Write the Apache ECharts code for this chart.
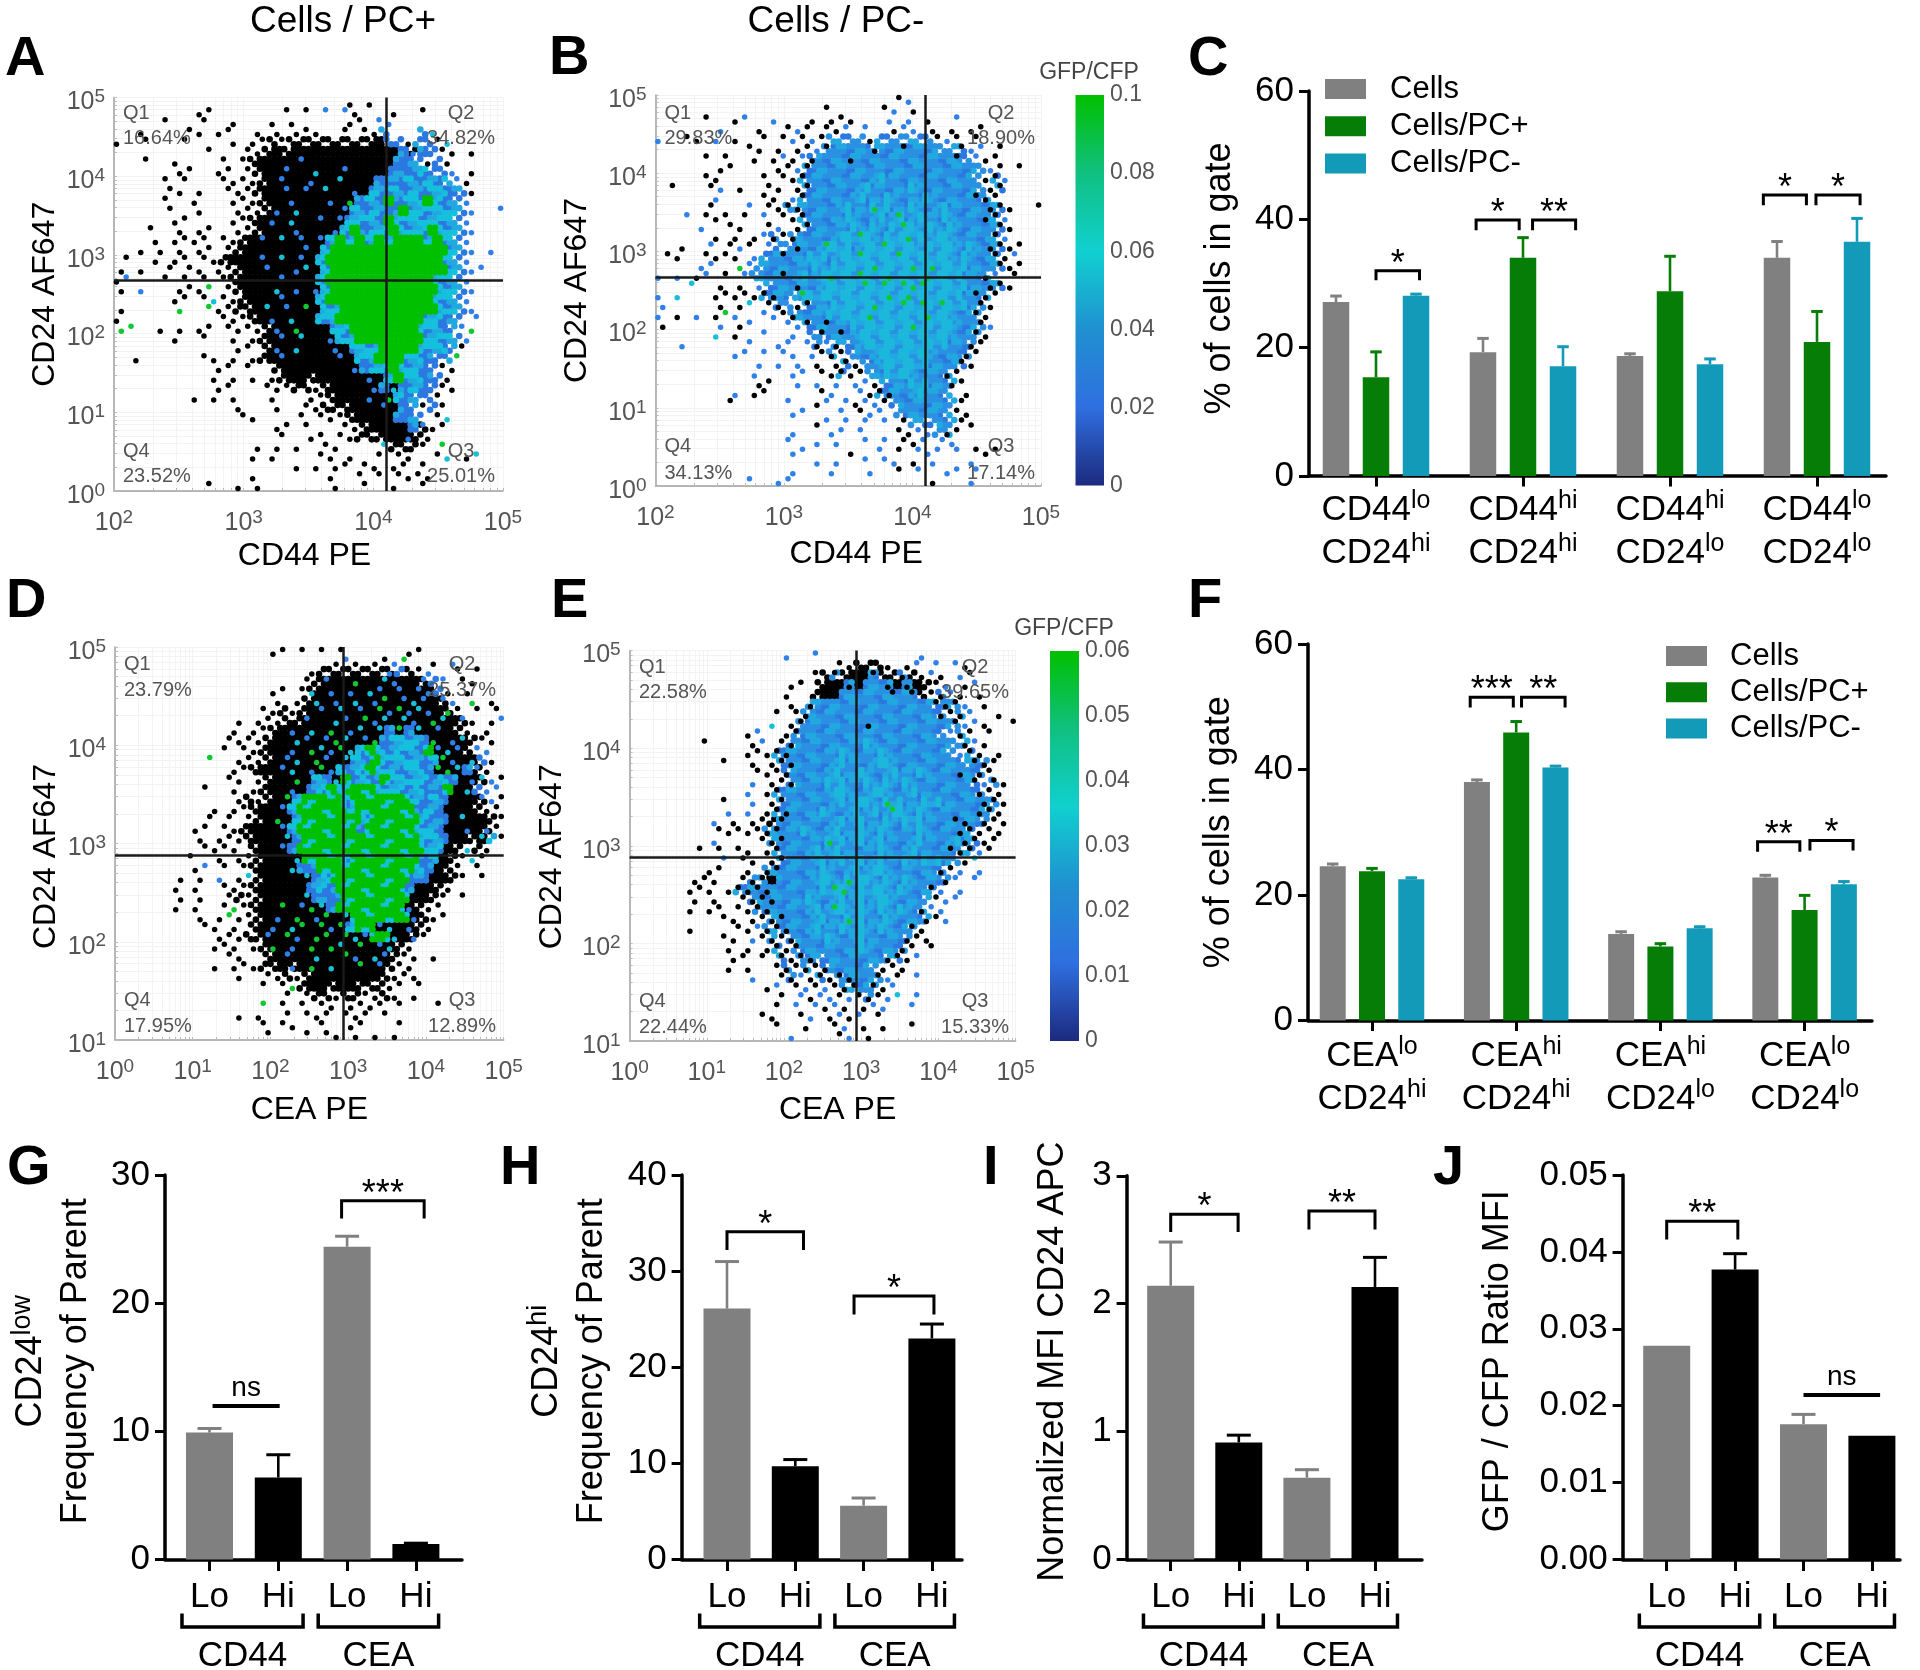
<!DOCTYPE html>
<html><head><meta charset="utf-8">
<style>html,body{margin:0;padding:0;background:#fff}#c{width:1920px;height:1670px}</style>
<script src="https://cdn.jsdelivr.net/npm/echarts@6/dist/echarts.min.js"></script></head>
<body><div id="c"></div>
<script>
// ---------- bar values ----------
const catC=['CD44{s|lo}\nCD24{s|hi}','CD44{s|hi}\nCD24{s|hi}','CD44{s|hi}\nCD24{s|lo}','CD44{s|lo}\nCD24{s|lo}'];
const catF=['CEA{s|lo}\nCD24{s|hi}','CEA{s|hi}\nCD24{s|hi}','CEA{s|hi}\nCD24{s|lo}','CEA{s|lo}\nCD24{s|lo}'];
const seriesNames=['Cells','Cells/PC+','Cells/PC-'];
const cCells=[27.1,19.3,18.7,34.0], cCellsErr=[28.2,21.6,19.2,36.7];
const cPos=[15.4,34.0,28.8,20.9],  cPosErr=[19.5,37.3,34.4,25.8];
const cNeg=[28.1,17.1,17.4,36.5],  cNegErr=[28.5,20.3,18.4,40.3];
const fCells=[24.6,38.0,13.8,22.8], fCellsErr=[25.1,38.5,14.3,23.3];
const fPos=[23.8,45.9,11.8,17.6],   fPosErr=[24.4,47.8,12.4,20.1];
const fNeg=[22.5,40.3,14.7,21.7],   fNegErr=[22.9,40.7,15.1,22.3];
const catLoHi=['Lo','Hi','Lo','Hi'];
const gVals=[9.9,6.4,24.4,1.2],     gErr=[10.3,8.25,25.3,1.35];
const hVals=[26.1,9.7,5.6,23.0],    hErr=[31.1,10.5,6.5,24.6];
const iVals=[2.14,0.915,0.64,2.13], iErr=[2.49,0.98,0.71,2.37];
const jVals=[0.0278,0.0377,0.0176,0.0161], jErr=[null,0.0399,0.019,null];
const groupSpans=[[-0.4,1.36,'CD44'],[1.58,3.33,'CEA']];
// brackets: x from, x to, y, y of the drop, label
const bracketsC=[[0,.296,32,30.5,'*'],[.681,.974,39.9,38.3,'*'],[1.065,1.358,39.9,38.3,'**'],[2.635,2.928,43.8,42.2,'*'],[2.993,3.293,43.8,42.2,'*']];
const bracketsF=[[.681,.98,51.5,49.9,'***'],[1.037,1.339,51.5,49.9,'**'],[2.674,2.967,28.5,26.9,'**'],[3.037,3.336,28.7,27.1,'*']];
const bracketsG=[[.045,1.02,11.97,11.97,'ns'],[1.92,3.12,28,26.6,'***']];
const bracketsH=[[0,1.12,34.1,32.2,'*'],[1.86,3.03,27.4,25.5,'*']];
const bracketsI=[[0,.99,2.70,2.56,'*'],[2.03,3,2.725,2.58,'**']];
const bracketsJ=[[0,1.04,.044,.0416,'**'],[2,3.12,.0214,.0214,'ns']];
// ---------- flow cytometry clouds (40 x 40 cells, top row first) ----------
// k b m c g: filled cell; B C G K: filled cell with a small dot; x y z w: small dot only
const rowsA=[
".......... .......... ....x.x... ..........",
"........xx .......x.x .y.yx...x. .x........",
".....x...x ..x...x.x. ....xx.yy. ..........",
"..x....xx. xx..x.x.xx x..x.xxb.. .bz.......",
"x..x...x.. ..x.xxkxkk kkkkkkkkbb xbbxz.....",
".........x ...xxkkkkk kkkkkkkkkb Bbbxx.x...",
"...x..x... .x.xkkkkkB kkkkkkkkkb bbxbx.....",
"......xx.. xx.xkkkBkk CkkBkkkkbb bcbby.x...",
".....x.x.. .xxxxkkBkk BkkCkkkbbb cbcbcyx...",
".....xx.x. .xxxkkkBkB kCkkBkcbcb cbccbbx...",
".....x..x. ..xxxkkkBk kkBkGbcbgb ccgcbby...",
".....x..x. ..xxxkBkCk kkkBcbcbbg cccccby..y",
"......xx.. ..xxkkBkCk kBkBcccbgc cccccby...",
"...x..x.xx ..xxkkkkBk kkBcgbccgc ccgccby...",
"....x.xxxx .xxkkBkCkB kBcgcgcgcg ggcgcby...",
"..x.x.x.xx .xkkkkkkkB kcgggggggg ggggcby.y.",
".x..x.xx.x xkkkkBkCkB kcgggggggg ggggcby...",
"x.x..x.xx. xxkkkBkkBC kcgggggggg ggggcbyy..",
"xy...x.x.x .xkkkkkBkk kcgggggggg gggccby...",
"x.y...xxxw .xkkkkCkBk Bcgggggggg gggccby...",
"......xx.x zxxkkkkBkk kcgggggggg gggccby...",
"x.....w..w xxkkkCkBkG kccggggggg gggccby...",
"x......... .xxxkkBkCk kccggggggg ggccbb.y..",
"ww..x.x.xx .xxxxkBkGk kkccgggggg gccbbyw...",
"......x..x ..x.xkkBkC kkBccggggg ggcccby...",
".......... ..xx.kBkCk kkBkcccggg gcccbx....",
"..x......x x.x.xkkBkk kkkBkccggg ccbbbw....",
".......... xx.x..kkkk kkkkBbccgc cbbxx.....",
".......... x.x.x.xkkk kkkkkkBkcg ccbbx.....",
".......... xx...xxxkk xkkkkkBbCb cbbxx.....",
"........x. x.x...x... xxkkkkBkGc bbbx......",
".......... ..x...x..x xkkkkkkBkb bxbx......",
".......... ...xx....x .xxxkkkkkb bb.xz.....",
".......... ......xx.x ...xxkkkkk bBxx......",
".......... .......x.. xx.xxkkkkk Bkx.......",
".......... ....x.x.x. .xx....zkk kx.w......",
".......... ....x.x... .xx.x..x.x x..xz.xz..",
".......... ........x. x.xx.xx.xx .x........",
".......... ....x..... ..x..x.x.x xxx.......",
".........x ..x.x..... ..x..x..x. .x........"];
const rowsB=[
".......... .......... .....xy... ..........",
".......... .......x.. ...xy.x... ..........",
".....x..xy ..y...x.xx x...y.y.x. .y........",
"......y... x..xyx.xxy .y..xyy.x. x.xx......",
"y..xx.y.x. .x.xyxyxmm mmxmmmmmmx yx.x......",
".........x x.x.xxyKmm mmKmmKmmmm mKyy.x....",
".....x.x.. x.xyxyKmmm Kmmmmmmmmm mKmyxx....",
"......xx.. ..xxyKmmmm mmmmmmmmmm mmmmyx.x..",
".....xx... .x.xxKmmmm mmmcmmmmmm mmmmxKy...",
".x...xy.x. .xx.xKmmmm mcmmmmcmmm mmmmxK....",
"......y... .xx.yKmmmm mcmmcmmmcm mmmKKx....",
".....x...y .xxKKmmmmc mmgcmmcmmc mmmmKKx..x",
"...y.xxx.x .y.xxKmmmm cmmcmgmcmm cmmmKKy...",
"....y..xx. .xy.xKmmmm cmcmcgcmcm cmmmmKx...",
"......x.x. xyKxKmmmmc cgcmccgcmc cmmmmKy...",
"..x..y.xyx .ymmKmmgcc mccgcccmcc cmcmKKxx..",
".xx..xxxx. ymmKmmccmc cgcccgcccc cmcmmKxy..",
"....yy..wy mmmmmmcmcc ccgcccgcgc ccmmmKxx..",
"y.y.xy.x.y mmmKmcmcgc cgccgcccgc ccmmKy.x..",
"...z..x.x. ymmmKmmccc cgcgcgggcc ccmmKKx...",
"y.z...xxxx xKKmmgcccc ccccgcgccc ccmKKx....",
"y.....x.xz .xKmxKmmcc ccgccgcgcg ccmKx.....",
"y.x.y.xwy. .yyxKmmmcc ccgcccccgc cmmKx.....",
"x.....y.xy ...yyKmKmm ccccccgccc cmmKy.....",
"......z.x. .y..y.mKmK mccccccccc cmmKx.....",
"..y......y ..yy.yKyKm mccccccccc mmKx......",
"........yy .y.yy.yxKx mmmccccccm mmKx......",
".......... y.y.y.x.xK xmmcccccmm mKx.......",
".......... y...yy.xxK xxmmcccmmm Kx........",
".......... xx..y.y.y. yyxmmmccmm Kx........",
"........y. xx.....xy. .yxKKmmcmm m.x.......",
".......x.. ...y..xy.y xyyxmmmmmm mx........",
".......... ....yy...y .xyy.mmmmm mxx.......",
".......... ......xy.y .y.y.xmmmm mxx.......",
".......... ....y...yy .y...xxyym Kx........",
".......... ...y..y.y. .y.y.xxy.y y.........",
".......... ....yy.... x..y.x.yyy .y.xxx....",
".......... ......y.y. .y.yy.x.y. ..y.......",
".......... ....y...y. ..y..x.y.. yy.y......",
".........y ..yy...... ........x. ..y......."];
const rowsD=[
".......... ......xx.x .x.x...... xx........",
".......... .......... ..xyx.xxyw ..x.y.....",
".......... .......... xkkkkkkkBb kxy..x.x..",
".......... .........x kBkkGkkCBk kBby.xx...",
".......... ......xx.x CkBkBkCBkB kBBbx.x...",
".......... ......x.xk CkBkCkBGkB CBkBy.w.x.",
".......... .....xxkxk kBkCkBkGBG BCBkGx.x.x",
".......... ..x.xxxkkB kkCBkGBCkC BkGCkBx.xy",
".......... ..x.xxkkBk CkGkBCkCbG bCkBkkx.x.",
".......... .xxxxkkkCB kBGCkBGbcc cbGkBCkxx.",
".......... .x.xxkkkBk GCBGCcgcbc cbgBCBkyy.",
".........w ..xxxkkBCk GBkCcbgccc cbcGBkCbx.",
".......... ..xxkkkBCk BGBcbcgccb ccbGGCbBx.",
".......... .xx.xkkkGk cbCgbcbgcc ccbcbkBCyx",
".........x ..x.xkkkBk bcgcgggccc bcbbgkCbyy",
".......... ..xkxkkGcg gggcgggggg cbcbkkkByx",
".......... x.xxkkkBcg ggggcggggg gbcbkkkkxx",
".........x .x.xkkGkcg gggggcgggg gcbbkCkkkx",
"........xx .xxkkkkBcg gggggbgggg gccbkkBkBx",
"........x. xxxkkkkCbg gggggggggg gccbkkkCcx",
".........x xxx.kkkBbg gggggggggg ggcckkzkx.",
".......x.. x.xxkkkkCg gggcgggggg gbckkxzx..",
"........xy .x.xkkkkCb bggggggggg gcbkkx.x..",
"......x.x. y.xzkkkkkC bcgggggggg bbkkkx.x..",
"......x.x. .xxxkkkkkk bcbggggggg bkkkx.....",
"......x.x. .xkxkkkkkC bbbggggggg kkkx.x....",
"......x.x. .xwxkkkGkB GCbggggggg Bkxx......",
"........x. xwxxkkBkGk BGkCgggggg Bkxx......",
".........x x.x.kkBkCG kGBGcggBCk Bkx.......",
".......... xxxkkBkGBk GGkGCBggCk Bx........",
".......... xxx.xkGkBk GkGCkGkBCk x.........",
".......... .xx..kkBkk CkkGBkCBkx x.x.......",
".......... x.xxxkkkBk GkCkkGkBkx x.........",
".......... ..x..xxkxk kkkkkkkkxx x.........",
".......... .....x.xwk kkkkkkkkxx .x........",
".......... .......x.x kkxkkxxkx. x.........",
".......... .....w.x.x .xx.xxxx.x ...x......",
".......... ..x.x..x.x xx.xxx.x.. ..........",
".......... .....x.xx. .x..xx...x ..........",
".......... .....x...x .xx.x.x.x. .........."];
const rowsE=[
".......... ......y..y .......... y.........",
".......... .......... .xxkkkx.xy .y.yx.....",
".......... .........x kKkkkKkkKk xyx.yx....",
".......... ......xx.k kkKkmmKkKk kxy.xy....",
".......... ......x..k kkmmmmmKmK kxKyx.x...",
".......... ......x.Km mmmmmmmmmm mKKKy.x...",
".......... .....x.xKm mmmmmmmmmm mmKxKy..x.",
".......... ....z.xKmm mmmmKmmmmm mmmKyyx..x",
".......... ..xy..xKmm mmmmmmmmmm mmmyKx.x..",
".......x.. ..xy.xKmmm mmmmcmmmmm mmmmKyx...",
".......... ..xxxKKmmm mmcmmmcmmm mmmmyKx.x.",
".........x ..x.xKKmmm mcmmmccmmm mmmmmKKx..",
".......... ...xxxKmmm mcmmcmmcmm cmmmKmKx..",
".......... ..y.xxKmmm ccmmcmcmcm mmmmmKyKx.",
".......... ..y.xKmmmm mccmmccmmc mmmmmmKxx.",
".........x ..y.xKmmmm mcmccmgcmm ccmmmmKKx.",
".......... y.y.xKKmmm cmmcmcmgcm cmmmmmKKx.",
"........y. x.xxkKmmmm mcmcmmcmcc mmmKKmKxx.",
".........x xxxxKKmmcm mcmmcmcmmm cmmmKKxxx.",
"........y. ...xKKmmmm gcmcmcmmmc mmmcKKxx..",
".......x.x .xx.xKmmmc mcmmmmcmmc mmmKKKyx..",
".........y .xx.xKmmmc mcmcmcmmcm ccmmxz....",
"........xx ..x.KKmmmm cmmcmccmmm mmKxy.y...",
"......xxx. .xKKkmmmmc cmgccmcmcm mmKy.y....",
"......xxx. xKKKKmmmmm cggmcccmcm mKy.y.....",
"......x.x. .xKKKmmmcm mcmcmccmmm mxyy......",
"......x.xx .xxKKmmmmc mgcmcmcmcm Kyy.......",
".........x x.xxKKmmmc mmgcmmcmmm Kxy.......",
"......x... .xxyKKKmmc mmcmcmcmmK x.........",
".........x x.yxKxKmmm cmmcmmmmKx x.........",
".......... x.x.xKxKmm mmmmcmmmKx .x........",
".......... xx.x.KxKKm mmmmmmKKxy ..........",
".......... x.x..xKxKx Kmmmmmxxx. ..........",
".......... ..y..xKyxK xKKmmKyx.y ..........",
".......... ....xy.xyx yxKKmKxy.. ..........",
".......... .....x.yxy yxyxKxyz.y ..........",
".......... .....x.y.y xyx.xyy..y ..........",
".......... ...xx..xy. xyxy.x.... ..........",
".......... .....x..x. .xy.x.x..x ..........",
".......... ......y... .xy.x..... .........."];
const quadA=['16.64%','34.82%','25.01%','23.52%'], quadB=['29.83%','18.90%','17.14%','34.13%'];
const quadD=['23.79%','25.37%','12.89%','17.95%'], quadE=['22.58%','39.65%','15.33%','22.44%'];
const crossA=[4.10,2.68], crossB=[4.10,2.665], crossD=[2.926,2.88], crossE=[2.935,2.884];
const colorStops=['#00c000','#10c080','#10d0d0','#2090d0','#2f6fe0','#1c2a7e'];

// ---------- helpers ----------
const FONT='"Liberation Sans", Arial, sans-serif';
const GRAY='#808080',GREEN='#067d06',TEAL='#139ab8',TXT='#555555';
const grid=[],xAxis=[],yAxis=[],series=[],graphic=[];
function addText(text,x,y,size,o){graphic.push({type:'text',x,y,z:50,silent:true,style:Object.assign({text,fontSize:size,fontFamily:FONT,fill:'#000',align:'left',verticalAlign:'middle'},o||{})});}
const dec=v=>'{n|10}{s|'+v+'}';
const minorLogs=(a,b)=>{const out=[];for(let e=a;e<b;e++)for(let k=1;k<10;k++)out.push(e+Math.log10(k));out.push(b);return out;};
const intsBetween=(a,b)=>{const o=[];for(let i=a;i<=b;i++)o.push(i);return o;};
const FILLED='kbmcgBCGK';
const CELL_MIX={k:['k','k','k','k'],b:['b','b','b','l'],m:['m','b','m','l'],c:['c','c','b','l'],g:['g','g','g','g']};
const CELL_MIX_D=Object.assign({},CELL_MIX,{g:['g','g','c','g']});
const CELL_MIX_SOFT={k:['k','k','k','k'],b:['b','b','b','l'],m:['m','m','b','l'],c:['c','l','c','m'],g:['c','l','c','m']};
const SUB=[[-.25,-.25],[.25,-.25],[-.25,.25],[.25,.25]];

function scatterPanel(p){
  const [l,t,r,b]=p.box,gi=grid.length;
  grid.push({left:l,top:t,width:r-l,height:b-t});
  const rich={n:{fontSize:25,lineHeight:30,color:TXT,fontFamily:FONT},s:{fontSize:19,lineHeight:15,verticalAlign:'top',color:TXT,fontFamily:FONT}};
  const axisCommon=(lo,hi,name,gap,pad)=>({type:'value',gridIndex:gi,min:lo,max:hi,name,nameLocation:'middle',nameGap:gap,
    nameTextStyle:{fontSize:32,color:'#000',fontFamily:FONT,padding:pad||0},
    axisLine:{onZero:false,lineStyle:{color:'#a0a0a0',width:1.5}},
    axisTick:{show:true,inside:true,length:3,customValues:minorLogs(lo,hi),lineStyle:{color:'#bbb'}},
    splitLine:{show:true,lineStyle:{color:'#f3f3f3',width:1}},
    axisLabel:{customValues:intsBetween(lo,hi),formatter:dec,rich,hideOverlap:false}});
  const xa=axisCommon(p.xr[0],p.xr[1],p.xName,p.xGap,p.xPad);xa.axisLabel.margin=17;
  const ya=axisCommon(p.yr[0],p.yr[1],p.yName,p.yGap,p.yPad);ya.axisLabel.margin=9;ya.axisLabel.padding=[10,0,0,0];
  xAxis.push(xa);yAxis.push(ya);
  const mix=p.mix||(p.soft?CELL_MIX_SOFT:CELL_MIX);
  const big={k:[],b:[],m:[],l:[],c:[],g:[]},small={x:[],y:[],z:[],w:[]};
  const grid2=p.rows.map(row=>row.replace(/ /g,''));
  const isFilled=(i,j)=>j>=0&&j<40&&i>=0&&i<40&&FILLED.indexOf(grid2[j][i]||'.')>=0;
  const cw=(p.xr[1]-p.xr[0])/40,ch2=(p.yr[1]-p.yr[0])/40;
  grid2.forEach((row,j)=>{
    const rowShift=j%2?.25:-.25;
    row.split('').forEach((ch,i)=>{
      if(ch==='.')return;
      const colShift=i%2?.25:-.25;
      const cx=p.xr[0]+(i+.5+rowShift)*cw, cy=p.yr[1]-(j+.5)*ch2;
      const dot=[cx,cy+colShift*ch2];
      if(small[ch]){small[ch].push(dot);return;}
      const base={B:'k',C:'k',G:'k',K:'m'}[ch]||ch;
      const edge=!isFilled(i-1,j)||!isFilled(i+1,j)||!isFilled(i,j-1)||!isFilled(i,j+1);
      SUB.forEach((s,n)=>{
        if(edge&&((n===0||n===3)===((i+j)%2===0)))return;
        big[mix[base][(n+i+2*j)%4]].push([cx+s[0]*cw,cy+s[1]*ch2]);
      });
      if(ch==='B')small.y.push(dot);
      if(ch==='C')small.z.push(dot);
      if(ch==='G')small.w.push(dot);
      if(ch==='K')small.x.push(dot);
      if(ch==='g'&&p.soft)small.w.push(dot);
    });
  });
  const bigColor={k:'#000',b:'#2b78e0',m:'#2a90e2',l:'#22a8e0',c:p.soft?'#1cb8dc':'#14c0dc',g:'#00c000'};
  ['k','b','m','l','c','g'].forEach(k=>series.push({type:'scatter',name:'cells '+k,xAxisIndex:gi,yAxisIndex:gi,data:big[k],symbolSize:6.6,z:2,silent:true,itemStyle:{color:bigColor[k],opacity:1}}));
  const smallColor={x:'#000',y:'#2f80e8',z:'#17c0d8',w:'#10c830'};
  ['x','y','z','w'].forEach(k=>series.push({type:'scatter',name:'dots '+k,xAxisIndex:gi,yAxisIndex:gi,data:small[k],symbolSize:5.5,z:3,silent:true,itemStyle:{color:smallColor[k],opacity:1}}));
  series.push({type:'scatter',name:'gate',xAxisIndex:gi,yAxisIndex:gi,data:[],z:4,silent:true,
    markLine:{silent:true,symbol:'none',animation:false,label:{show:false},lineStyle:{type:'solid',color:'#1a1a1a',width:2.5},
      data:[{xAxis:p.cross[0]},{yAxis:p.cross[1]}]}});
  const q=p.quad,Q=p.qpos;
  addText('Q1',Q.lx,Q.t1,20,{fill:TXT});addText(q[0],Q.lx,Q.t2,20,{fill:TXT});
  addText('Q2',Q.rx,Q.t1,20,{fill:TXT,align:'center'});addText(q[1],Q.rx,Q.t2,20,{fill:TXT,align:'center'});
  addText('Q4',Q.lx,Q.b1,20,{fill:TXT});addText(q[3],Q.lx,Q.b2,20,{fill:TXT});
  addText('Q3',Q.rx,Q.b1,20,{fill:TXT,align:'center'});addText(q[2],Q.rx,Q.b2,20,{fill:TXT,align:'center'});
}
function colorbar(l,t,r,b,maxV,step,title,tx,ty){
  const gi=grid.length;
  grid.push({left:l,top:t,width:r-l,height:b-t});
  xAxis.push({type:'category',gridIndex:gi,data:[title],show:false});
  yAxis.push({type:'value',gridIndex:gi,position:'right',min:0,max:maxV,interval:step,splitLine:{show:false},axisLine:{show:false},axisTick:{show:false},
    axisLabel:{margin:6,fontSize:23,color:TXT,fontFamily:FONT,hideOverlap:false,padding:[12,0,0,0],formatter:v=>String(+v.toFixed(2))}});
  series.push({type:'bar',name:title+' scale',xAxisIndex:gi,yAxisIndex:gi,data:[maxV],barWidth:'100%',silent:true,
    itemStyle:{color:new echarts.graphic.LinearGradient(0,0,0,1,colorStops.map((c,i)=>({offset:i/(colorStops.length-1),color:c})))}});
  addText(title,tx,ty,23,{fill:'#444',align:'center'});
}
function barAxes(p){
  const gi=grid.length;
  grid.push({left:p.axisX,top:p.top,width:p.right-p.axisX,height:p.base-p.top});
  const lab=p.labels;
  xAxis.push({type:'value',gridIndex:gi,min:-(p.c0-p.axisX)/p.sp,max:3+(p.right-(p.c0+3*p.sp))/p.sp,splitLine:{show:false},
    axisLine:{onZero:false,lineStyle:{color:'#000',width:3.5}},
    axisTick:{show:true,length:p.xTick||10.5,customValues:[0,1,2,3],lineStyle:{color:'#000',width:3}},
    axisLabel:{customValues:[0,1,2,3],formatter:v=>lab[v],margin:p.xMargin,color:'#000',hideOverlap:false,fontFamily:FONT,fontSize:p.xFont||35,lineHeight:p.xLine,
      rich:{s:{fontSize:25,lineHeight:20,verticalAlign:'top',color:'#000',fontFamily:FONT}}}});
  yAxis.push({type:'value',gridIndex:gi,min:0,max:p.max,interval:p.step,name:p.name,nameLocation:'middle',nameGap:p.nameGap,nameRotate:90,
    nameTextStyle:{fontSize:36,color:'#000',fontFamily:FONT,lineHeight:p.nameLine||40,padding:p.namePad||0,rich:{s:{fontSize:27,lineHeight:24,verticalAlign:'top',color:'#000',fontFamily:FONT}}},
    splitLine:{show:false},axisLine:{onZero:false,lineStyle:{color:'#000',width:3.5}},axisTick:{length:10,lineStyle:{color:'#000',width:3}},
    axisLabel:{margin:15,fontSize:35,color:'#000',fontFamily:FONT,hideOverlap:false,formatter:p.fmt||(v=>String(v))}});
  return gi;
}
function errorSeries(gi,xs,tops,vals,color,dx,cap){
  const data=[];xs.forEach((x,i)=>{if(tops[i]!=null)data.push([x,tops[i],vals[i]]);});
  series.push({type:'custom',name:'error bars',xAxisIndex:gi,yAxisIndex:gi,z:3,silent:true,data,encode:{x:0,y:1},
    renderItem(_,api){const x=api.value(0),a=api.coord([x,api.value(1)]),b=api.coord([x,api.value(2)]),cx=a[0]+dx;
      return {type:'group',children:[
        {type:'line',shape:{x1:cx,y1:a[1],x2:cx,y2:b[1]},style:{stroke:color,lineWidth:2.6}},
        {type:'line',shape:{x1:cx-cap/2,y1:a[1]+1,x2:cx+cap/2,y2:a[1]+1},style:{stroke:color,lineWidth:3}}]};}});
}
function bracketSeries(gi,list){
  series.push({type:'custom',name:'significance',xAxisIndex:gi,yAxisIndex:gi,z:5,silent:true,clip:false,
    data:list.map(b=>[b[0],b[2],b[1],b[3]]),encode:{x:0,y:1},
    renderItem(p,api){const a=api.coord([api.value(0),api.value(1)]),c=api.coord([api.value(2),api.value(1)]),d=api.coord([api.value(0),api.value(3)]);
      const lab=list[p.dataIndex][4],ns=lab==='ns',mx=(a[0]+c[0])/2;
      return {type:'group',children:[
        {type:'polyline',shape:{points:[[a[0],d[1]],[a[0],a[1]],[c[0],a[1]],[c[0],d[1]]]},style:{stroke:'#000',fill:null,lineWidth:ns?4:3}},
        {type:'text',style:{text:lab,x:mx,y:a[1]-(ns?18:6),align:'center',verticalAlign:'middle',fontSize:ns?28:36,fontFamily:FONT,fill:'#000'}}]};}});
}
function groupedBars(p,vals,tops,legendCols){
  const gi=barAxes(p),xs=[0,1,2,3];
  seriesNames.forEach((n,k)=>{
    series.push({type:'bar',name:n,xAxisIndex:gi,yAxisIndex:gi,barWidth:p.barW,barGap:p.barGap,z:2,silent:true,data:vals[k].map((v,i)=>[xs[i],v]),itemStyle:{color:legendCols[k]}});
    errorSeries(gi,xs,tops[k],vals[k],legendCols[k],(k-1)*p.pitch,11.5);
  });
  bracketSeries(gi,p.brackets);
}
function pairBars(p,vals,tops){
  const gi=barAxes(Object.assign({labels:catLoHi,xMargin:20,xLine:36,xTick:11.5},p)),xs=[0,1,2,3],cols=[GRAY,'#000',GRAY,'#000'];
  series.push({type:'bar',name:p.id,xAxisIndex:gi,yAxisIndex:gi,barWidth:47,z:2,silent:true,data:vals.map((v,i)=>({value:[xs[i],v],itemStyle:{color:cols[i]}}))});
  [0,1].forEach(c=>errorSeries(gi,xs.filter(i=>i%2===c),tops.filter((_,i)=>i%2===c),vals.filter((_,i)=>i%2===c),cols[c],0,24));
  bracketSeries(gi,p.brackets);
  series.push({type:'custom',name:'groups',xAxisIndex:gi,yAxisIndex:gi,z:5,silent:true,clip:false,data:groupSpans.map(g=>[g[0],0,g[1]]),encode:{x:0,y:1},
    renderItem(q,api){const a=api.coord([api.value(0),0]),c=api.coord([api.value(2),0]),y=a[1];
      return {type:'group',children:[
        {type:'polyline',shape:{points:[[a[0],y+54],[a[0],y+67.5],[c[0],y+67.5],[c[0],y+54]]},style:{stroke:'#000',fill:null,lineWidth:3.5}},
        {type:'text',style:{text:groupSpans[q.dataIndex][2],x:(a[0]+c[0])/2,y:y+97,align:'center',verticalAlign:'middle',fontSize:35,fontFamily:FONT,fill:'#000'}}]};}});
}

// ---------- panels ----------
scatterPanel({rows:rowsA,box:[114,97.5,503,491],xr:[2,5],yr:[0,5],xName:'CD44 PE',yName:'CD24 AF647',xGap:49,yGap:53,xPad:[0,8,0,0],cross:crossA,quad:quadA,
  qpos:{lx:123,rx:461,t1:113,t2:138,b1:451,b2:476}});
scatterPanel({rows:rowsB,soft:true,box:[655.5,95,1041,486],xr:[2,5],yr:[0,5],xName:'CD44 PE',yName:'CD24 AF647',xGap:52,yGap:62,xPad:[0,0,0,16],cross:crossB,quad:quadB,
  qpos:{lx:664.5,rx:1001,t1:113,t2:138,b1:446.5,b2:473}});
scatterPanel({rows:rowsD,mix:CELL_MIX_D,box:[115,647,503.7,1040],xr:[0,5],yr:[1,5],xName:'CEA PE',yName:'CD24 AF647',xGap:54,yGap:53,yPad:[0,26,0,0],cross:crossD,quad:quadD,
  qpos:{lx:124,rx:462,t1:664,t2:690,b1:1000.5,b2:1026.6}});
scatterPanel({rows:rowsE,soft:true,box:[629.6,650.6,1015.6,1041],xr:[0,5],yr:[1,5],xName:'CEA PE',yName:'CD24 AF647',xGap:53,yGap:61.6,xPad:[0,0,0,30],yPad:[0,22,0,0],cross:crossE,quad:quadE,
  qpos:{lx:639,rx:975,t1:667.5,t2:692.6,b1:1001.5,b2:1027}});
colorbar(1075.5,95,1104,485.5,0.1,0.02,'GFP/CFP',1089,73);
colorbar(1050,651,1079,1041,0.06,0.01,'GFP/CFP',1064,628.6);

groupedBars({axisX:1309,c0:1376,sp:147,right:1886,top:91,base:476,max:60,step:20,labels:catC,xMargin:13,xLine:43,name:'% of cells in gate',nameGap:69,namePad:[0,0,0,10],barW:26.5,barGap:'51%',pitch:40,brackets:bracketsC},
  [cCells,cPos,cNeg],[cCellsErr,cPosErr,cNegErr],[GRAY,GREEN,TEAL]);
groupedBars({axisX:1308,c0:1372,sp:144.2,right:1872,top:644,base:1020.5,max:60,step:20,labels:catF,xMargin:14,xLine:43,name:'% of cells in gate',nameGap:69,barW:26,barGap:'51%',pitch:39.3,brackets:bracketsF},
  [fCells,fPos,fNeg],[fCellsErr,fPosErr,fNegErr],[GRAY,GREEN,TEAL]);

pairBars({id:'G',axisX:165,c0:209.5,sp:68.8,right:462,top:1175,base:1559.5,max:30,step:10,name:'CD24{s|low}\nFrequency of Parent',nameGap:66,nameLine:45,namePad:[0,0,0,12],brackets:bracketsG},gVals,gErr);
pairBars({id:'H',axisX:681.6,c0:727,sp:68.3,right:962,top:1175,base:1559.5,max:40,step:10,name:'CD24{s|hi}\nFrequency of Parent',nameGap:67,nameLine:45,namePad:[0,0,0,12],brackets:bracketsH},hVals,hErr);
pairBars({id:'I',axisX:1126.6,c0:1170.7,sp:68.1,right:1422,top:1175.8,base:1559.5,max:3,step:1,name:'Normalized MFI CD24 APC',nameGap:53.6,namePad:[0,0,0,12],brackets:bracketsI},iVals,iErr);
pairBars({id:'J',axisX:1622.6,c0:1666.7,sp:68.4,right:1900,top:1175,base:1559.5,max:0.05,step:0.01,fmt:v=>v.toFixed(2),name:'GFP / CFP Ratio MFI',nameGap:105,namePad:[0,0,0,12],brackets:bracketsJ},jVals,jErr);

addText('Cells / PC+',343,22,37,{align:'center'});
addText('Cells / PC-',836,22,37,{align:'center'});
[['A',5,60],['B',549,59],['C',1188,60],['D',6,602],['E',551,602],['F',1188,602],['G',7,1169],['H',500,1169],['I',983,1169],['J',1433,1169]]
  .forEach(a=>addText(a[0],a[1],a[2],56,{fontWeight:'bold'}));

const legendBase={orient:'vertical',icon:'rect',itemWidth:41,itemHeight:20,selectedMode:false,padding:0,data:seriesNames};
const chart=echarts.init(document.getElementById('c'),null,{renderer:'canvas'});
chart.setOption({animation:false,backgroundColor:'#fff',grid,xAxis,yAxis,series,graphic:{elements:graphic},
  legend:[
    Object.assign({},legendBase,{left:1325,top:73.5,itemGap:6.2,textStyle:{fontSize:31,color:'#000',fontFamily:FONT,padding:[0,0,0,19]}}),
    Object.assign({},legendBase,{left:1666,top:640.5,itemGap:5.2,textStyle:{fontSize:31,color:'#000',fontFamily:FONT,padding:[0,0,0,18]}})
  ]});
</script></body></html>
